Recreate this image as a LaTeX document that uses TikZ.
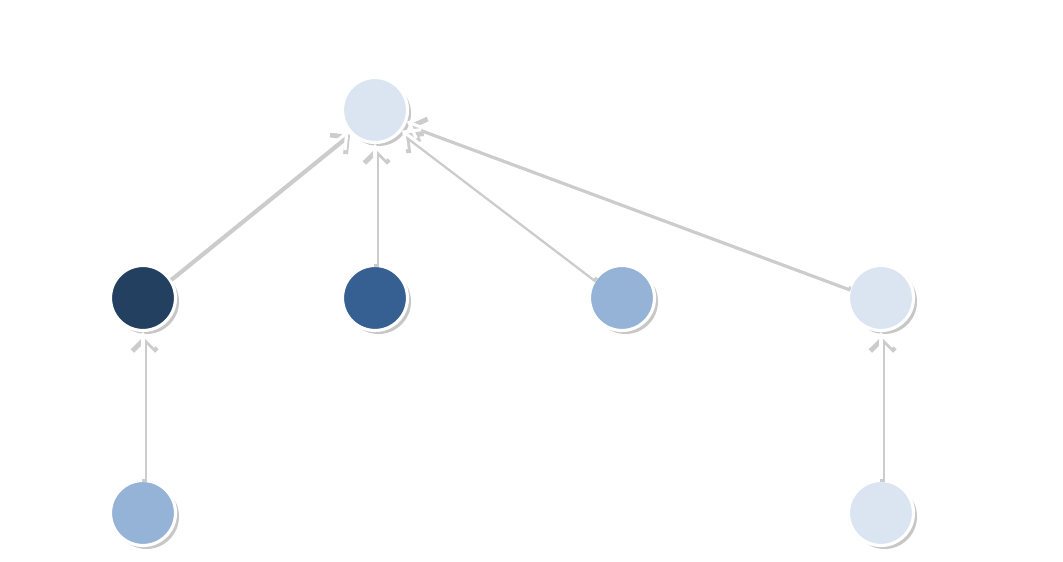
\documentclass[tikz,border=0pt]{standalone}
\usepackage{tikz}
\usetikzlibrary{shadows}
\usetikzlibrary{arrows.meta}
\definecolor{navy}{HTML}{244061}
\definecolor{steel}{HTML}{376092}
\definecolor{sky}{HTML}{95B3D7}
\definecolor{mist}{HTML}{DBE5F1}
\tikzset{vertex/.style={shape=circle, draw=white, line width=1.8pt, minimum size=1.3cm, inner sep=0pt,
		drop shadow={shadow xshift=2pt, shadow yshift=-2pt, fill=black, opacity=0.22}}}
\tikzset{link/.style={draw=white, line width=1.8pt, >={Straight Barb[length=7pt,width=14pt]}}}
\tikzset{linkshade/.style={link, draw=black!20, line width=2.8pt}}

\begin{document}
\begin{tikzpicture}
		\useasboundingbox (0,0) rectangle (21.26,11.24);
		\node[vertex, fill=mist] (A) at (7.5,9.04) {};
		\node[vertex, fill=navy] (B) at (2.86,5.28) {};
		\node[vertex, fill=steel] (C) at (7.5,5.28) {};
		\node[vertex, fill=sky] (D) at (12.44,5.28) {};
		\node[vertex, fill=mist] (E) at (17.62,5.28) {};
		\node[vertex, fill=sky] (F) at (2.86,0.98) {};
		\node[vertex, fill=mist] (G) at (17.62,0.98) {};
		% shadow under the arrows
		\begin{scope}[transform canvas={shift={(0.9pt,-1.8pt)}}]
		\draw [linkshade, ->] (B) -- (A);
		\draw [linkshade, ->] (C) -- (A);
		\draw [linkshade, ->] (D) -- (A);
		\draw [linkshade, ->] (E) -- (A);
		\draw [linkshade, ->] (F) -- (B);
		\draw [linkshade, ->] (G) -- (E);
		\end{scope}
		\draw [link, ->] (B) -- (A);
		\draw [link, ->] (C) -- (A);
		\draw [link, ->] (D) -- (A);
		\draw [link, ->] (E) -- (A);
		\draw [link, ->] (F) -- (B);
		\draw [link, ->] (G) -- (E);
	\end{tikzpicture}
\end{document}
